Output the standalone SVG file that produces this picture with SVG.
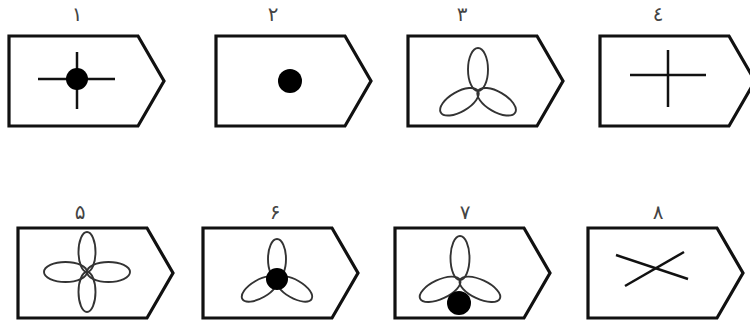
<svg xmlns="http://www.w3.org/2000/svg" xmlns:xlink="http://www.w3.org/1999/xlink" width="750" height="322" viewBox="0 0 750 322">
<style>
.frame{fill:#fff;stroke:#111;stroke-width:3.2;stroke-linejoin:miter}
.bar{stroke:#111;stroke-width:2.5;stroke-linecap:butt}
.petal{fill:none;stroke:#333;stroke-width:1.9}
.dot{fill:#000}
.lbl{font-family:"DejaVu Sans",sans-serif;font-size:20px;fill:#444;text-anchor:middle}
</style>
<defs>
<path id="tag" d="M0,0 H129 L155,45 L129,90 H0 Z"/>
<ellipse id="p3" cx="0" cy="-21.5" rx="10" ry="21.5"/>
<ellipse id="p6" cx="0" cy="-20" rx="9" ry="20"/>
<ellipse id="p7" cx="0" cy="-22" rx="9.5" ry="22"/>
</defs>
<rect width="750" height="322" fill="#fff"/>

<g id="node1">
<use href="#tag" class="frame" transform="translate(9 36)"/>
<text class="lbl" x="77" y="21">١</text>
<line class="bar" x1="38" y1="79" x2="115" y2="79"/>
<line class="bar" x1="77" y1="52" x2="77" y2="109"/>
<circle class="dot" cx="77" cy="79" r="11"/>
</g>

<g id="node2">
<use href="#tag" class="frame" transform="translate(216 36)"/>
<text class="lbl" x="273" y="21">٢</text>
<circle class="dot" cx="290" cy="81" r="12"/>
</g>

<g id="node3">
<use href="#tag" class="frame" transform="translate(408 36)"/>
<text class="lbl" x="462" y="21">٣</text>
<g class="petal" transform="translate(478 91)">
<use href="#p3"/>
<use href="#p3" transform="rotate(120)"/>
<use href="#p3" transform="rotate(240)"/>
</g>
</g>

<g id="node4">
<use href="#tag" class="frame" transform="translate(600 36)"/>
<text class="lbl" x="658" y="21">٤</text>
<line class="bar" x1="630" y1="75" x2="706" y2="75"/>
<line class="bar" x1="668" y1="50" x2="668" y2="107"/>
</g>

<g id="node5">
<use href="#tag" class="frame" transform="translate(18 228)"/>
<text class="lbl" x="80" y="219">۵</text>
<g class="petal" transform="translate(87 272)">
<ellipse cx="0" cy="-20" rx="8.5" ry="20"/>
<ellipse cx="0" cy="20" rx="8.5" ry="20"/>
<ellipse cx="-21.5" cy="0" rx="21.5" ry="10"/>
<ellipse cx="21.5" cy="0" rx="21.5" ry="10"/>
</g>
</g>

<g id="node6">
<use href="#tag" class="frame" transform="translate(203 228)"/>
<text class="lbl" x="275" y="219">۶</text>
<g class="petal" transform="translate(277 279)">
<use href="#p6"/>
<use href="#p6" transform="rotate(120)"/>
<use href="#p6" transform="rotate(240)"/>
</g>
<circle class="dot" cx="277" cy="279" r="11"/>
</g>

<g id="node7">
<use href="#tag" class="frame" transform="translate(395 228)"/>
<text class="lbl" x="465" y="219">٧</text>
<g class="petal" transform="translate(460 280)">
<use href="#p7"/>
<use href="#p7" transform="rotate(115)"/>
<use href="#p7" transform="rotate(245)"/>
</g>
<circle class="dot" cx="459" cy="303" r="12"/>
</g>

<g id="node8">
<use href="#tag" class="frame" transform="translate(588 228)"/>
<text class="lbl" x="658" y="219">٨</text>
<line class="bar" x1="616" y1="255" x2="688" y2="279"/>
<line class="bar" x1="625" y1="286" x2="684" y2="252"/>
</g>

<g id="connectors"></g>
</svg>
